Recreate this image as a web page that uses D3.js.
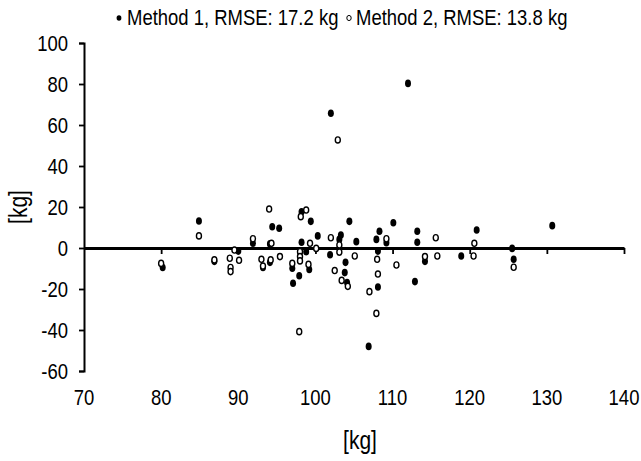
<!DOCTYPE html>
<html><head><meta charset="utf-8">
<script src="https://cdn.jsdelivr.net/npm/d3@7"></script>
<style>
html,body{margin:0;padding:0;background:#fff;}
text{font-family:"Liberation Sans",Arial,sans-serif;fill:#000;}
</style></head>
<body>
<svg id="chart" width="641" height="461"></svg>
<script>
const xTicks = [70, 80, 90, 100, 110, 120, 130, 140];
const yTicks = [-60, -40, -20, 0, 20, 40, 60, 80, 100];
const seriesNames = ["Method 1, RMSE: 17.2 kg", "Method 2, RMSE: 13.8 kg"];
const xTitle = "[kg]";
const yTitle = "[kg]";

// Method 1 (filled)
const m1x = [80.2, 84.9, 86.9, 90.0, 91.9, 93.2, 94.1, 94.1, 94.4, 95.3, 97.1, 97.0, 97.9, 98.2, 98.2, 98.8, 99.2, 99.4, 100.3, 101.9, 102.0, 103.3, 103.1, 103.9, 103.8, 104.1, 104.4, 105.3, 106.9, 107.9, 108.3, 108.1, 108.1, 109.2, 110.1, 112.0, 112.9, 113.2, 113.2, 114.2, 118.9, 120.9, 125.5, 125.7, 130.7];
const m1y = [-9.5, 13.2, -6.5, -1.5, 2.3, -9.5, 2.0, -7.0, 10.4, 9.6, -17.2, -9.9, -13.5, 17.7, 2.8, -1.8, -10.5, 13.0, 5.9, -3.3, 65.7, 6.3, 4.2, -7.0, -12.0, -16.8, 13.0, 3.1, -48.0, 4.2, 8.2, -1.5, -19.0, 2.6, 12.3, 80.3, -16.4, 8.2, 2.8, -6.5, -3.9, 8.8, -0.2, -5.5, 10.9];

// Method 2 (hollow)
const m2x = [80.0, 84.9, 86.9, 88.9, 89.0, 89.0, 89.5, 90.1, 91.9, 93.0, 93.2, 94.0, 94.2, 94.3, 95.4, 97.0, 97.9, 98.1, 98.8, 98.0, 98.0, 98.0, 99.3, 99.1, 100.1, 102.0, 102.5, 102.9, 103.1, 103.1, 103.4, 104.2, 105.1, 107.0, 107.9, 108.0, 108.1, 109.2, 110.5, 114.2, 115.6, 115.8, 120.6, 120.5, 125.7];
const m2y = [-7.5, 5.9, -5.8, -5.0, -9.5, -11.5, -1.0, -6.0, 4.5, -5.5, -8.8, 19.0, -5.8, 2.3, -4.2, -7.5, -40.8, 15.3, 18.5, -1.8, -4.2, -6.3, 2.3, -8.0, -0.2, 5.0, -11.0, 52.7, 1.5, -2.0, -15.8, -18.7, -3.9, -21.3, -31.9, -5.5, -12.7, 4.5, -8.3, -4.2, 5.0, -3.9, 2.3, -3.9, -9.4];

const SX = 0.84; // narrow-font emulation
const svg = d3.select("#chart");
const x = d3.scaleLinear().domain([70, 140]).range([84, 624]);
const y = d3.scaleLinear().domain([-60, 100]).range([371, 43]);

function ntext(g, tx, ty, str, size, anchor, rot) {
  return g.append("text")
    .attr("transform", `translate(${tx},${ty})${rot ? " rotate(" + rot + ")" : ""} scale(${SX},1)`)
    .attr("text-anchor", anchor || "start")
    .attr("font-size", size).text(str);
}

// y axis
const yAxis = svg.append("g").attr("transform", "translate(84,0)")
  .call(d3.axisLeft(y).tickValues(yTicks).tickSize(5).tickFormat(""));
yAxis.select(".domain").attr("stroke", "#000").attr("stroke-width", 2);
yAxis.selectAll(".tick line").attr("stroke", "#000").attr("stroke-width", 1.8);

const yl = svg.append("g");
yTicks.forEach(t => ntext(yl, 68, y(t) + 7.5, String(t), 22, "end"));

// x axis line at zero
const xAxis = svg.append("g").attr("transform", `translate(0,${y(0)})`)
  .call(d3.axisBottom(x).tickValues(xTicks).tickSize(6).tickSizeOuter(0).tickFormat(""));
xAxis.select(".domain").attr("stroke", "#000").attr("stroke-width", 2.8);
xAxis.selectAll(".tick line").attr("stroke", "#000").attr("stroke-width", 1.8);
xAxis.selectAll(".tick").filter(d => d === 70).remove();

// x tick labels at bottom
const xl = svg.append("g");
xTicks.forEach(t => ntext(xl, x(t), 405, String(t), 22, "middle"));

// titles
ntext(svg, 360, 449, xTitle, 25, "middle");
ntext(svg, 27, 207, yTitle, 25, "middle", -90);

// points
const d1 = m1x.map((v, i) => ({x: v, y: m1y[i]}));
const d2 = m2x.map((v, i) => ({x: v, y: m2y[i]}));
svg.append("g").selectAll("ellipse").data(d1).join("ellipse")
  .attr("cx", d => x(d.x)).attr("cy", d => y(d.y)).attr("rx", 3).attr("ry", 3.8)
  .attr("fill", "#000");
svg.append("g").selectAll("ellipse").data(d2).join("ellipse")
  .attr("cx", d => x(d.x)).attr("cy", d => y(d.y)).attr("rx", 2.5).attr("ry", 3.1)
  .attr("fill", "#fff").attr("stroke", "#000").attr("stroke-width", 1.4);

// legend
const lg = svg.append("g");
lg.append("ellipse").attr("cx", 119).attr("cy", 18).attr("rx", 2.4).attr("ry", 2.8).attr("fill", "#000");
ntext(lg, 127, 25, seriesNames[0], 22, "start");
lg.append("ellipse").attr("cx", 349).attr("cy", 18).attr("rx", 2.2).attr("ry", 2.6).attr("fill", "none").attr("stroke", "#000").attr("stroke-width", 1);
ntext(lg, 356, 25, seriesNames[1], 22, "start");
</script>
</body></html>
